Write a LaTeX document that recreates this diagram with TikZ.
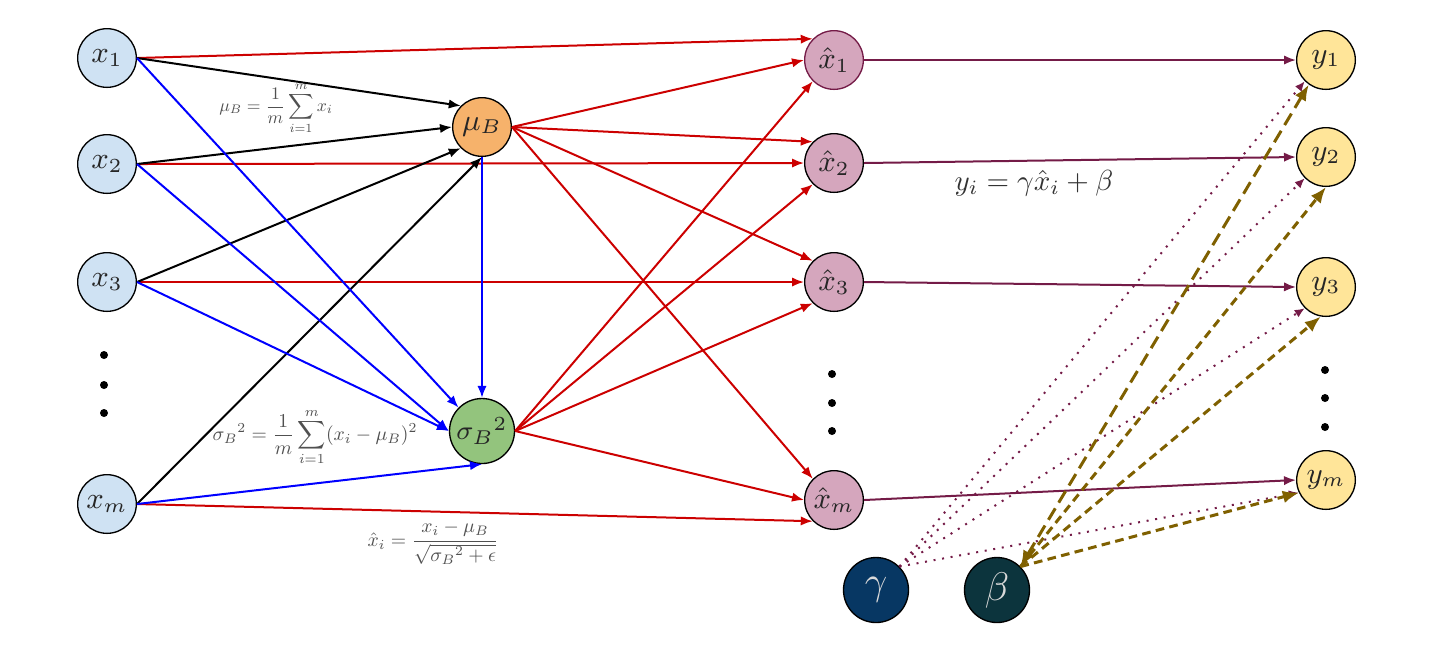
\documentclass[tikz,border=0pt]{standalone}
\usetikzlibrary{arrows.meta}
\definecolor{xblue}{HTML}{CFE2F3}
\definecolor{muor}{HTML}{F6B26B}
\definecolor{sggreen}{HTML}{93C47D}
\definecolor{xhpink}{HTML}{D5A6BD}
\definecolor{yyel}{HTML}{FFE599}
\definecolor{gamblue}{HTML}{073763}
\definecolor{betateal}{HTML}{0C343D}
\definecolor{redc}{HTML}{CC0000}
\definecolor{purc}{HTML}{741B47}
\definecolor{olivec}{HTML}{7F6000}
\definecolor{bluec}{HTML}{0000FF}
\definecolor{formc}{HTML}{505050}
\begin{document}
\begin{tikzpicture}[x=0.3pt,y=-0.3pt,
  neuron/.style={circle,draw=black,line width=0.4pt,minimum size=17.6pt,inner sep=0pt,font=\small,text=black!85},
  bigneuron/.style={neuron,minimum size=19.5pt},
  xin/.style={neuron,fill=xblue},
  xhat/.style={neuron,fill=xhpink},
  yout/.style={neuron,fill=yyel},
  param/.style={bigneuron,text=white!85!black,font=\large},
  arr/.style={-{Latex[length=3.6pt,width=2.8pt]},line width=0.6pt},
  redarr/.style={arr,draw=redc},
  blkarr/.style={arr,draw=black},
  bluarr/.style={arr,draw=bluec},
  purarr/.style={arr,draw=purc},
  gamarr/.style={-{Latex[length=3pt,width=2.6pt]},draw=purc,line width=0.6pt,dotted},
  betarr/.style={-{Latex[length=4.8pt,width=3.8pt]},draw=olivec,line width=0.9pt,dash pattern=on 2.6pt off 1.6pt},
  betboth/.style={{Latex[length=4.8pt,width=3.8pt]}-{Latex[length=4.8pt,width=3.8pt]},draw=olivec,line width=0.9pt,dash pattern=on 4pt off 2pt},
  formula/.style={text=formc,inner sep=0pt},
  dotc/.style={circle,fill=black,inner sep=0pt,minimum size=2.4pt}
]
\useasboundingbox (0,0) rectangle (1430,666);

% inputs
\node[xin] (x1) at (107,58) {$x_1$};
\node[xin] (x2) at (107,164) {$x_2$};
\node[xin] (x3) at (107,282) {$x_3$};
\node[xin] (xm) at (107,504) {$x_m$};
\node[dotc] (ld1) at (104,355) {};
\node[dotc] (ld2) at (104,385) {};
\node[dotc] (ld3) at (104,413) {};

% statistics
\node[neuron,fill=muor] (mu) at (482,127) {$\mu_B$};
\node[bigneuron,fill=sggreen,font=\footnotesize] (sg) at (482,431) {${\sigma_B}^2$};

% normalised
\node[xhat,draw=purc] (xh1) at (834,60) {$\hat{x}_1$};
\node[xhat] (xh2) at (834,163) {$\hat{x}_2$};
\node[xhat] (xh3) at (834,282) {$\hat{x}_3$};
\node[xhat] (xhm) at (834,500) {$\hat{x}_m$};
\node[dotc] (md1) at (832,374) {};
\node[dotc] (md2) at (832,403) {};
\node[dotc] (md3) at (832,431) {};

% outputs
\node[yout] (y1) at (1326,60) {$y_1$};
\node[yout] (y2) at (1326,157) {$y_2$};
\node[yout] (y3) at (1326,287) {$y_3$};
\node[yout] (ym) at (1326,480) {$y_m$};
\node[dotc] (rd1) at (1325,370) {};
\node[dotc] (rd2) at (1325,398) {};
\node[dotc] (rd3) at (1325,427) {};

% parameters
\node[param,fill=gamblue] (gam) at (876,590) {$\gamma$};
\node[param,fill=betateal] (bet) at (997,590) {$\beta$};

% formulas
\node[formula,scale=0.53] (fmu) at (276,108) {$\displaystyle \mu_B=\frac{1}{m}\sum_{i=1}^{m}x_i$};
\node[formula,scale=0.59] (fsg) at (315,437) {$\displaystyle {\sigma_B}^2=\frac{1}{m}\sum_{i=1}^{m}(x_i-\mu_B)^2$};
\node[formula,scale=0.59] (fxh) at (433,543) {$\displaystyle \hat{x}_i=\frac{x_i-\mu_B}{\sqrt{{\sigma_B}^2+\epsilon}}$};
\node[formula,text=black!80,scale=0.87] (fy) at (1034,183) {$y_i=\gamma\hat{x}_i+\beta$};

% red: inputs to normalised
\draw[redarr] (x1.east) -- (xh1.north west);
\draw[redarr] (x2.east) -- (xh2.west);
\draw[redarr] (x3.east) -- (xh3.west);
\draw[redarr] (xm.east) -- (xhm.south west);

% black: inputs to mean
\draw[blkarr] (x1.east) -- (mu.north west);
\draw[blkarr] (x2.east) -- (mu.west);
\draw[blkarr] (x3.east) -- (mu.south west);
\draw[blkarr] (xm.east) -- (mu.south);

% blue: inputs to variance
\draw[bluarr] (x1.east) -- (sg.north west);
\draw[bluarr] (x2.east) -- (sg.west);
\draw[bluarr] (x3.east) -- (sg.west);
\draw[bluarr] (xm.east) -- (sg.south);
\draw[bluarr] (mu.south) -- (sg.north);

% red: mean to normalised
\draw[redarr] (mu.east) -- (xh1.west);
\draw[redarr] (mu.east) -- (xh2.north west);
\draw[redarr] (mu.east) -- (xh3.north west);
\draw[redarr] (mu.east) -- (xhm.north west);

% red: variance to normalised
\draw[redarr] (sg.east) -- (xh1.south west);
\draw[redarr] (sg.east) -- (xh2.south west);
\draw[redarr] (sg.east) -- (xh3.south west);
\draw[redarr] (sg.east) -- (xhm.west);

% purple: normalised to outputs
\draw[purarr] (xh1.east) -- (y1.west);
\draw[purarr] (xh2.east) -- (y2.west);
\draw[purarr] (xh3.east) -- (y3.west);
\draw[purarr] (xhm.east) -- (ym.west);

% gamma dotted
\draw[gamarr] (gam.north east) -- (y1.south west);
\draw[gamarr] (gam.north east) -- (y2.south west);
\draw[gamarr] (gam.north east) -- (y3.south west);
\draw[gamarr] (gam.north east) -- (ym.205);

% beta dashed
\draw[betboth] (bet.north east) -- (y1.235);
\draw[betarr] (bet.north east) -- (y2.south);
\draw[betarr] (bet.north east) -- (y3.260);
\draw[betarr] (bet.north east) -- (ym.205);
\end{tikzpicture}
\end{document}
